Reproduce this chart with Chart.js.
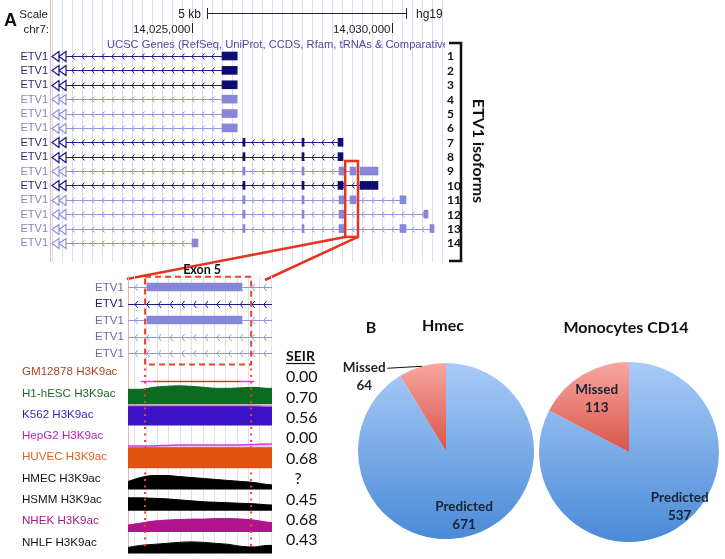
<!DOCTYPE html>
<html>
<head>
<meta charset="utf-8">
<script src="https://cdn.jsdelivr.net/npm/chart.js@4.4.0/dist/chart.umd.min.js"></script>
<style>
  body { margin: 0; background: #fff; width: 725px; height: 559px; overflow: hidden; position: relative; }
  canvas { position: absolute; }
  .ttl { position: absolute; font: bold 16px Lato, "Open Sans", sans-serif; color: #111; white-space: nowrap; text-align: center; line-height: 20px; }
</style>
</head>
<body>
<canvas id="browser" width="490" height="285" style="left:0;top:0"></canvas>
<canvas id="zoom" width="335" height="559" style="left:0;top:0"></canvas>
<canvas id="pie1" width="210" height="210" style="left:330px;top:340px"></canvas>
<canvas id="pie2" width="184" height="184" style="left:537px;top:360px"></canvas>
<div class="ttl" style="left:361px;top:317px;width:20px">B</div>
<div class="ttl" style="left:393px;top:315px;width:100px">Hmec</div>
<div class="ttl" style="left:526px;top:317px;width:200px">Monocytes CD14</div>
<script>
// ---- panel A: UCSC view of ETV1 (hg19 chr7) ----
const viewStart = 14021450, viewEnd = 14031325;
const scaleBar = [14025375, 14030375];
const coordTicks = [14025000, 14030000];
const highlight = [14028830, 14029150];

const isoforms = [1, 2, 3, 4, 5, 6, 7, 8, 9, 10, 11, 12, 13, 14];
const darkIsoforms = [1, 2, 3, 7, 8, 10];
const txStarts = [14021850, 14021850, 14021850, 14021850, 14021850, 14021850, 14021850,
                  14021850, 14021850, 14021850, 14021850, 14021850, 14021850, 14021850];
const txEnds = [14026125, 14026125, 14026125, 14026125, 14026125, 14026125, 14028775,
                14028775, 14029650, 14029650, 14030350, 14030900, 14031050, 14025150];
const exons = [
  [[14025750, 14026130]],
  [[14025750, 14026130]],
  [[14025750, 14026130]],
  [[14025750, 14026130]],
  [[14025750, 14026130]],
  [[14025750, 14026130]],
  [[14026275, 14026325], [14027750, 14027800], [14028650, 14028775]],
  [[14026275, 14026325], [14027750, 14027800], [14028650, 14028775]],
  [[14026275, 14026325], [14027750, 14027800], [14028675, 14028825], [14028950, 14029100], [14029200, 14029650]],
  [[14026275, 14026325], [14027750, 14027800], [14028650, 14028775], [14029200, 14029650]],
  [[14026275, 14026325], [14027750, 14027800], [14028675, 14028825], [14028950, 14029100], [14030200, 14030350]],
  [[14026275, 14026325], [14027750, 14027800], [14028675, 14028825], [14030800, 14030900]],
  [[14026275, 14026325], [14027750, 14027800], [14028675, 14028825], [14030200, 14030350], [14030950, 14031050]],
  [[14025000, 14025150]]
];

// ---- zoom on exon 5 with H3K9ac signal ----
const zoomStart = 14028920, zoomEnd = 14029148;
const zoomIsoforms = [9, 10, 11, 12, 13];
const exon5Box = [14028947, 14029115];
const signalPos = [14028920, 14028940, 14028960, 14028980, 14029000, 14029020, 14029040,
                   14029060, 14029080, 14029100, 14029120, 14029140, 14029160];
const cellLines = ['GM12878', 'H1-hESC', 'K562', 'HepG2', 'HUVEC', 'HMEC', 'HSMM', 'NHEK', 'NHLF'];
const gm12878 = [null, 1.5, 1.5, 1.5, 1.5, 1.5, 1.5, 1.5, 1.5, 1.5, 1.5, null, null];
const h1hesc  = [15, 15, 17, 18, 18.5, 18, 17, 16, 16, 16.5, 17, 16, 16];
const k562    = [20, 20, 20, 20, 20, 20, 20, 20, 20, 20, 20, 19.5, 19.5];
const hepg2   = [1, 1, 1, 1.5, 2, 2, 2, 2, 2, 2, 2.5, 3, 3];
const huvec   = [20.5, 20.5, 20.5, 20.5, 20.5, 20.5, 20.5, 20.5, 20.5, 20.5, 20.5, 20.5, 20.5];
const hmec    = [8, 12, 14, 14, 13, 12, 11, 10, 9, 8, 7, 5, 4];
const hsmm    = [13, 13, 12.5, 12, 11, 10, 9, 8.5, 8, 7.5, 7, 6, 5.5];
const nhek    = [7, 9, 11, 12, 12.5, 13, 13, 13.5, 13.5, 13, 12, 10, 9];
const nhlf    = [6, 8, 9, 10, 11, 11.5, 11, 10, 9, 7, 6.5, 8, 8];
const seir = [0.00, 0.70, 0.56, 0.00, 0.68, null, 0.45, 0.68, 0.43];

// ---- panel B ----
const pieLabels = ['Predicted', 'Missed'];
const hmecCounts = [671, 64];
const monocyteCounts = [537, 113];

Chart.defaults.animation = false;
Chart.defaults.events = [];
Chart.defaults.plugins.legend.display = false;
Chart.defaults.plugins.tooltip.enabled = false;

const DARK = '#0c0c74', LIGHT = '#8787d9';
const DARK_LINE = '#1c1c82', LIGHT_LINE = '#9494da';
const UCSC_FONT = '"Liberation Sans", Arial, sans-serif';
const isDark = n => darkIsoforms.includes(n);

function chevrons(ctx, x0, x1, y, step, h) {
  ctx.beginPath();
  for (let x = x0 + step * 0.6; x < x1 - 2; x += step) {
    ctx.moveTo(x + h * 0.8, y - h);
    ctx.lineTo(x, y);
    ctx.lineTo(x + h * 0.8, y + h);
  }
  ctx.stroke();
}

// rows: value 1 at pixel firstY, one unit per step px, area from top..top+height
function rowAxis(firstY, step, top, height) {
  const min = 1 - (firstY - top) / step;
  return { type: 'linear', display: false, reverse: true, offset: false, min, max: min + height / step,
           ticks: { stepSize: 1, includeBounds: false } };
}

// ---------- top browser chart ----------
const topRows = { first: 56, step: 14.38, top: 0, height: 262 };

const browserPlugin = {
  id: 'browser',
  beforeDatasetsDraw(chart) {
    const { ctx, chartArea: a, scales: { x, y } } = chart;
    ctx.save();
    ctx.lineWidth = 1;
    ctx.strokeStyle = '#dcdcf2';
    ctx.beginPath();
    for (let p = Math.ceil(viewStart / 250) * 250; p <= viewEnd; p += 250) {
      const px = Math.round(x.getPixelForValue(p)) + 0.5;
      ctx.moveTo(px, a.top); ctx.lineTo(px, a.bottom);
    }
    ctx.stroke();
    ctx.strokeStyle = '#f2b2b2';
    ctx.beginPath(); ctx.moveTo(a.left + 0.5, a.top); ctx.lineTo(a.left + 0.5, a.bottom); ctx.stroke();

    // header: scale bar and coordinates
    ctx.font = '12px ' + UCSC_FONT;
    ctx.fillStyle = '#222';
    ctx.strokeStyle = '#222';
    const b0 = x.getPixelForValue(scaleBar[0]), b1 = x.getPixelForValue(scaleBar[1]);
    ctx.beginPath();
    ctx.moveTo(b0, 13.5); ctx.lineTo(b1, 13.5);
    ctx.moveTo(b0 + 0.5, 8); ctx.lineTo(b0 + 0.5, 19);
    ctx.moveTo(b1 - 0.5, 8); ctx.lineTo(b1 - 0.5, 19);
    ctx.stroke();
    ctx.textAlign = 'right';
    ctx.fillText('5 kb', b0 - 6, 18);
    ctx.font = '11.5px ' + UCSC_FONT;
    ctx.fillText('Scale', 48, 18);
    ctx.fillText('chr7:', 49, 33);
    ctx.font = '12px ' + UCSC_FONT;
    ctx.textAlign = 'left';
    ctx.fillText('hg19', b1 + 9, 18);
    ctx.font = '11.5px ' + UCSC_FONT;
    coordTicks.forEach(p => {
      const px = Math.round(x.getPixelForValue(p)) + 0.5;
      ctx.beginPath(); ctx.moveTo(px, 23); ctx.lineTo(px, 33); ctx.stroke();
      ctx.textAlign = 'right';
      ctx.fillText(p.toLocaleString('en-US'), px - 2, 33);
    });
    ctx.save();
    ctx.beginPath(); ctx.rect(a.left, a.top, a.right - a.left, a.bottom - a.top); ctx.clip();
    ctx.fillStyle = '#4a4aa4';
    ctx.font = '11.2px ' + UCSC_FONT;
    ctx.textAlign = 'left';
    ctx.fillText('UCSC Genes (RefSeq, UniProt, CCDS, Rfam, tRNAs & Comparative Genomics)', 107, 48);
    ctx.restore();

    // intron lines with strand chevrons
    isoforms.forEach((n, i) => {
      const yy = Math.round(y.getPixelForValue(n)) + 0.5;
      const s = x.getPixelForValue(txStarts[i]), e = x.getPixelForValue(txEnds[i]);
      ctx.strokeStyle = isDark(n) ? DARK_LINE : LIGHT_LINE;
      ctx.lineWidth = 1;
      ctx.beginPath(); ctx.moveTo(s, yy); ctx.lineTo(e, yy); ctx.stroke();
      chevrons(ctx, s, e, yy, 10, 3);
      ctx.lineWidth = 1.2;
      ctx.beginPath();
      for (let k = 0; k < 2; k++) {
        const tx = s - 7 * k;
        ctx.moveTo(tx, yy - 5); ctx.lineTo(tx - 7, yy); ctx.lineTo(tx, yy + 5); ctx.closePath();
      }
      ctx.stroke();
    });
    ctx.restore();
  },
  afterDatasetsDraw(chart) {
    const { ctx, chartArea: a, scales: { x, y } } = chart;
    ctx.save();
    // highlight box around exon 5 and its connectors to the zoom panel
    const h0 = x.getPixelForValue(highlight[0]), h1 = x.getPixelForValue(highlight[1]);
    const v0 = y.getPixelForValue(8.3), v1 = y.getPixelForValue(13.58);
    ctx.strokeStyle = '#e4351f';
    ctx.lineWidth = 2.5;
    ctx.strokeRect(h0, v0, h1 - h0, v1 - v0);
    ctx.beginPath();
    ctx.moveTo(h0, v1); ctx.lineTo(127, 279);
    ctx.moveTo(h1, v1); ctx.lineTo(265, 280);
    ctx.stroke();

    // row labels and isoform numbers
    ctx.textBaseline = 'middle';
    isoforms.forEach(n => {
      const yy = y.getPixelForValue(n) + 0.5;
      ctx.font = '11px ' + UCSC_FONT;
      ctx.textAlign = 'right';
      ctx.fillStyle = isDark(n) ? '#2a2a72' : '#8787b4';
      ctx.fillText('ETV1', 48, yy);
      ctx.font = 'bold 12px Lato, sans-serif';
      ctx.textAlign = 'left';
      ctx.fillStyle = '#111';
      ctx.fillText(String(n), a.right + 2, yy);
    });

    // bracket
    ctx.strokeStyle = '#111';
    ctx.lineWidth = 2.5;
    ctx.beginPath();
    ctx.moveTo(449, 43); ctx.lineTo(461, 43); ctx.lineTo(461, 261); ctx.lineTo(449, 261);
    ctx.stroke();

    ctx.fillStyle = '#111';
    ctx.save();
    ctx.translate(478, 151);
    ctx.rotate(Math.PI / 2);
    ctx.font = 'bold 16px Lato, sans-serif';
    ctx.textAlign = 'center';
    ctx.fillText('ETV1 isoforms', 0, 0);
    ctx.restore();

    ctx.font = 'bold 18px ' + UCSC_FONT;
    ctx.textAlign = 'left';
    ctx.textBaseline = 'alphabetic';
    ctx.fillText('A', 4, 26);
    ctx.restore();
  }
};

const exonPoints = [];
exons.forEach((list, i) => list.forEach(e => exonPoints.push({ x: e, y: isoforms[i] })));

new Chart(document.getElementById('browser'), {
  type: 'bar',
  data: {
    datasets: [{
      data: exonPoints,
      backgroundColor: c => isDark(c.raw.y) ? DARK : LIGHT,
      borderWidth: 0,
      barThickness: 8
    }]
  },
  options: {
    indexAxis: 'y',
    responsive: false,
    maintainAspectRatio: false,
    layout: { padding: { left: 50, right: 45, top: 0, bottom: 23 } },
    scales: {
      x: { type: 'linear', display: false, offset: false, min: viewStart, max: viewEnd },
      y: rowAxis(topRows.first, topRows.step, topRows.top, topRows.height)
    }
  },
  plugins: [browserPlugin]
});

// ---------- zoom panel ----------
const AREA_TOP = 276, AREA_BOTTOM = 554, AREA_H = AREA_BOTTOM - AREA_TOP;
const zoomRows = { first: 287, step: 16.5 };
const trackBottom0 = 383, trackStep = 21.3;

function trackAxis(bottomY) {
  const min = -(AREA_BOTTOM - bottomY);
  return { type: 'linear', display: false, offset: false, min, max: min + AREA_H };
}

const tracks = [gm12878, h1hesc, k562, hepg2, huvec, hmec, hsmm, nhek, nhlf];
const trackFill = ['#b34a2c', '#0d6b1f', '#3b12c4', '#f2c4f2', '#e0530f', '#000000', '#000000', '#b1138b', '#000000'];
const trackLine = ['#b34a2c', '#0d6b1f', '#d378d8', '#d43cd4', '#e0530f', '#000000', '#000000', '#b1138b', '#000000'];
const labelColor = ['#ad4324', '#1d6a28', '#3a1dbd', '#c21fc2', '#e2601c', '#111111', '#111111', '#a3158f', '#111111'];

const zoomScales = {
  x: { type: 'linear', display: false, offset: false, min: zoomStart, max: zoomEnd },
  yg: rowAxis(zoomRows.first, zoomRows.step, AREA_TOP, AREA_H)
};
tracks.forEach((t, i) => { zoomScales['t' + i] = trackAxis(trackBottom0 + i * trackStep); });

const zoomExons = [];
zoomIsoforms.forEach((n, k) => {
  exons[isoforms.indexOf(n)].forEach(e => zoomExons.push({ x: e, y: k + 1, iso: n }));
});

const zoomPlugin = {
  id: 'zoomPanel',
  beforeDatasetsDraw(chart) {
    const { ctx, chartArea: a, scales } = chart;
    const x = scales.x, yg = scales.yg;
    ctx.save();
    ctx.lineWidth = 1;
    ctx.strokeStyle = '#dfdff3';
    ctx.beginPath();
    for (let p = Math.ceil(zoomStart / 18) * 18; p <= zoomEnd; p += 18) {
      const px = Math.round(x.getPixelForValue(p)) + 0.5;
      ctx.moveTo(px, a.top); ctx.lineTo(px, a.bottom);
    }
    ctx.stroke();
    ctx.strokeStyle = '#f2b2b2';
    ctx.beginPath(); ctx.moveTo(a.left + 0.5, a.top); ctx.lineTo(a.left + 0.5, a.bottom); ctx.stroke();

    zoomIsoforms.forEach((n, k) => {
      const i = isoforms.indexOf(n);
      const yy = Math.round(yg.getPixelForValue(k + 1)) + 0.5;
      const s = Math.max(a.left, x.getPixelForValue(txStarts[i]));
      const e = Math.min(a.right, x.getPixelForValue(txEnds[i]));
      ctx.strokeStyle = isDark(n) ? DARK_LINE : LIGHT_LINE;
      ctx.lineWidth = 1;
      ctx.beginPath(); ctx.moveTo(s, yy); ctx.lineTo(e, yy); ctx.stroke();
      chevrons(ctx, s, e, yy, 11.7, 3.5);
    });
    ctx.restore();
  },
  afterDatasetsDraw(chart) {
    const { ctx, chartArea: a, scales } = chart;
    const x = scales.x, yg = scales.yg;
    ctx.save();
    const bx0 = x.getPixelForValue(exon5Box[0]), bx1 = x.getPixelForValue(exon5Box[1]);
    const by0 = yg.getPixelForValue(0.38), by1 = yg.getPixelForValue(5.7);
    ctx.strokeStyle = '#e8452c';
    ctx.lineWidth = 2;
    ctx.setLineDash([6, 4]);
    ctx.strokeRect(bx0, by0, bx1 - bx0, by1 - by0);
    ctx.setLineDash([2, 4.5]);
    ctx.beginPath();
    ctx.moveTo(bx0, by1 + 4); ctx.lineTo(bx0, a.bottom - 4);
    ctx.moveTo(bx1, by1 + 4); ctx.lineTo(bx1, a.bottom - 4);
    ctx.stroke();
    ctx.setLineDash([]);

    ctx.fillStyle = '#111';
    ctx.font = 'bold 12.5px Lato, sans-serif';
    ctx.textAlign = 'center';
    ctx.fillText('Exon 5', (bx0 + bx1) / 2 + 4, 274);

    ctx.textBaseline = 'middle';
    ctx.font = '11.6px ' + UCSC_FONT;
    ctx.textAlign = 'right';
    zoomIsoforms.forEach((n, k) => {
      ctx.fillStyle = isDark(n) ? '#20205e' : '#6c6ca2';
      ctx.fillText('ETV1', a.left - 4, yg.getPixelForValue(k + 1) + 0.5);
    });

    ctx.textAlign = 'left';
    cellLines.forEach((name, i) => {
      const yy = scales['t' + i].getPixelForValue(0) - 11;
      ctx.fillStyle = labelColor[i];
      ctx.fillText(name + ' H3K9ac', 22, yy);
    });

    // SEIR column
    ctx.fillStyle = '#111';
    ctx.font = 'bold 14px Lato, sans-serif';
    ctx.fillText('SEIR', 286, 356);
    const w = ctx.measureText('SEIR').width;
    ctx.strokeStyle = '#111';
    ctx.lineWidth = 1.2;
    ctx.beginPath(); ctx.moveTo(286, 363.5); ctx.lineTo(286 + w, 363.5); ctx.stroke();
    ctx.font = '16px Lato, sans-serif';
    seir.forEach((v, i) => {
      const yy = 377 + i * 20.4;
      if (v === null) {
        ctx.textAlign = 'center';
        ctx.fillText('?', 298, yy);
      } else {
        ctx.textAlign = 'left';
        ctx.fillText(v.toFixed(2), 286, yy);
      }
    });
    ctx.restore();
  }
};

const zoomDatasets = [{
  type: 'bar',
  indexAxis: 'y',
  xAxisID: 'x',
  yAxisID: 'yg',
  data: zoomExons,
  backgroundColor: c => isDark(c.raw.iso) ? DARK : LIGHT,
  borderWidth: 0,
  barThickness: 8
}];
tracks.forEach((vals, i) => {
  zoomDatasets.push({
    type: 'line',
    xAxisID: 'x',
    yAxisID: 't' + i,
    data: vals.map((v, k) => ({ x: signalPos[k], y: v })),
    fill: i === 0 ? false : 'origin',
    backgroundColor: trackFill[i],
    borderColor: trackLine[i],
    borderWidth: i === 0 || i === 3 || i === 2 ? 1.5 : 1,
    pointRadius: 0,
    tension: 0.4,
    cubicInterpolationMode: 'monotone',
    segment: i === 0 ? {
      borderColor: c => (c.p0.parsed.x < exon5Box[0] || c.p1.parsed.x > exon5Box[1]) ? '#e040e0' : '#b34a2c'
    } : undefined
  });
});

new Chart(document.getElementById('zoom'), {
  type: 'bar',
  data: { datasets: zoomDatasets },
  options: {
    responsive: false,
    maintainAspectRatio: false,
    layout: { padding: { left: 128, right: 63, top: AREA_TOP, bottom: 559 - AREA_BOTTOM } },
    scales: zoomScales
  },
  plugins: [zoomPlugin]
});

// ---------- pies ----------
const sliceFill = c => {
  const { ctx, chartArea } = c.chart;
  if (!chartArea) return c.dataIndex === 0 ? '#7fb0ea' : '#ec8c84';
  if (c.dataIndex === 0) {
    const g = ctx.createLinearGradient(0, chartArea.top, 0, chartArea.bottom);
    g.addColorStop(0, '#a9cbf7');
    g.addColorStop(1, '#4a8ad7');
    return g;
  }
  const g = ctx.createLinearGradient(0, chartArea.top, 0, (chartArea.top + chartArea.bottom) / 2);
  g.addColorStop(0, '#f7a7a0');
  g.addColorStop(1, '#d8544a');
  return g;
};

// slice labels: place[i] = {r: fraction of radius, shift: radians} or {leader: [dx, dy]}
function pieText(place) {
  return {
    id: 'pieText',
    afterDatasetsDraw(chart) {
      const { ctx } = chart;
      const meta = chart.getDatasetMeta(0);
      const values = chart.data.datasets[0].data;
      ctx.save();
      ctx.font = 'bold 13.5px Lato, "Open Sans", sans-serif';
      ctx.fillStyle = '#1b2232';
      ctx.textAlign = 'center';
      ctx.textBaseline = 'middle';
      meta.data.forEach((arc, i) => {
        const { x, y, startAngle, endAngle, outerRadius: r } =
          arc.getProps(['x', 'y', 'startAngle', 'endAngle', 'outerRadius'], true);
        const o = place[i];
        const mid = (startAngle + endAngle) / 2 + (o.shift || 0);
        let cx = x + Math.cos(mid) * r * (o.r || 1);
        let cy = y + Math.sin(mid) * r * (o.r || 1);
        if (o.leader) {
          const ex = x + Math.cos(mid) * r, ey = y + Math.sin(mid) * r;
          const lx = ex + o.leader[0], ly = ey + o.leader[1];
          ctx.strokeStyle = '#111';
          ctx.lineWidth = 1;
          ctx.beginPath(); ctx.moveTo(ex, ey); ctx.lineTo(lx, ly); ctx.stroke();
          cx = lx - 23; cy = ly + 8;
        }
        ctx.fillText(chart.data.labels[i], cx, cy - 9);
        ctx.fillText(String(values[i]), cx, cy + 9);
      });
      ctx.restore();
    }
  };
}

function pieChart(id, counts, padding, place) {
  new Chart(document.getElementById(id), {
    type: 'pie',
    data: {
      labels: pieLabels,
      datasets: [{ data: counts, backgroundColor: sliceFill, borderWidth: 0 }]
    },
    options: {
      responsive: false,
      maintainAspectRatio: false,
      layout: { padding }
    },
    plugins: [pieText(place)]
  });
}

pieChart('pie1', hmecCounts, { left: 28, right: 6, top: 23, bottom: 11 },
  [{ r: 0.76 }, { leader: [-35, 2] }]);
pieChart('pie2', monocyteCounts, { left: 2, right: 2, top: 2, bottom: 2 },
  [{ r: 0.83, shift: -0.2 }, { r: 0.69 }]);
</script>
</body>
</html>
